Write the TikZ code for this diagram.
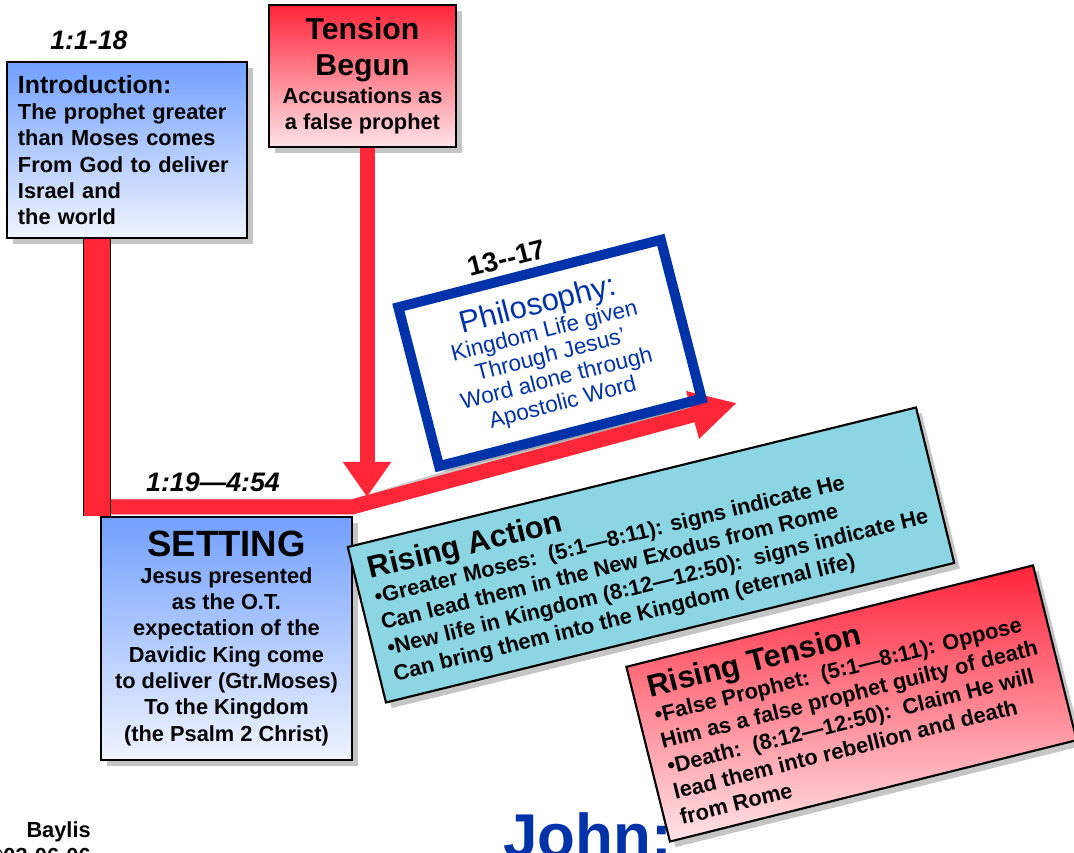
\documentclass[tikz,border=0pt]{standalone}
\usepackage{fontspec}
\setmainfont{Liberation Sans}
\usetikzlibrary{arrows.meta,shadows,positioning}
\definecolor{barred}{RGB}{255,38,56}
\definecolor{skyblue}{RGB}{114,160,255}
\definecolor{paleblue}{RGB}{240,244,255}
\definecolor{tensred}{RGB}{255,36,58}
\definecolor{palepink}{RGB}{255,228,232}
\definecolor{actioncyan}{RGB}{140,214,228}
\definecolor{philblue}{RGB}{0,50,170}
\definecolor{shadowgray}{RGB}{110,110,110}

\newcommand{\bodyfont}{\fontsize{15.5}{18.7}\selectfont\bfseries}
\newcommand{\titlefont}{\fontsize{17.7}{20.5}\selectfont\bfseries}
\newcommand{\bigfont}{\fontsize{21.5}{25.5}\selectfont\bfseries}
\newcommand{\settingfont}{\fontsize{26}{29}\selectfont\bfseries}
\newcommand{\headfont}{\fontsize{22}{25}\selectfont\bfseries}
\newcommand{\reffont}{\fontsize{19}{22}\selectfont\bfseries\itshape}
\newcommand{\numfont}{\fontsize{19.5}{22}\selectfont\bfseries}
\newcommand{\philheadfont}{\fontsize{22}{24}\selectfont}
\newcommand{\philfont}{\fontsize{16}{17.5}\selectfont}
\newcommand{\johnfont}{\fontsize{44}{50}\selectfont\bfseries}

\begin{document}
\begin{tikzpicture}[x=0.025cm, y=0.025cm,
  panel/.style={rectangle, draw=black, line width=1.5pt,
    drop shadow={shadow xshift=4pt, shadow yshift=-4pt, opacity=0.45}},
  bluegrad/.style={top color=skyblue, bottom color=paleblue},
  redgrad/.style={top color=tensred, bottom color=palepink},
  bar/.style={barred, line width=0.375cm},
  barshadow/.style={shadowgray, line width=0.375cm, opacity=0.35,
    xshift=4pt, yshift=-4pt},
  philframe/.style={rectangle, rotate=14.4, minimum width=6.775cm,
    minimum height=4.1cm}
]

%% ── page ──────────────────────────────────────────────────────────────────
\useasboundingbox (0,0) rectangle (1074,853);
\clip (0,0) rectangle (1074,853);
\fill[white] (0,0) rectangle (1074,853);

%% ── boxes that the bars start from ────────────────────────────────────────
\node[panel, bluegrad, minimum width=6cm, minimum height=4.4cm,
      text width=5.45cm, inner xsep=0.25cm,
      align=left, font=\bodyfont] (intro) at (127,703)
  {{\titlefont Introduction:}\\The prophet greater\\than Moses comes\\
   From God to deliver\\Israel and\\the world};

\node[panel, redgrad, minimum width=4.675cm, minimum height=3.55cm,
      align=center, font=\bodyfont] (tension) at (362.5,777)
  {{\bigfont Tension}\\[7pt]{\bigfont Begun}\\[1pt]Accusations as\\a false prophet};

\node[panel, bluegrad, minimum width=6.275cm, minimum height=6.075cm,
      align=center, font=\bodyfont] (setting) at (226.5,214.5)
  {{\settingfont SETTING}\\Jesus presented\\as the O.T.\\expectation of the\\
   Davidic King come\\to deliver (Gtr.Moses)\\To the Kingdom\\(the Psalm 2 Christ)};

% Philosophy box: white ground first, frame again on top of the arrow
\node[philframe, fill=white,
      drop shadow={shadow xshift=4pt, shadow yshift=-4pt, opacity=0.45}]
  (philbase) at (550,500) {};

%% ── red bars ──────────────────────────────────────────────────────────────
\coordinate (leftdrop) at ([xshift=-0.75cm]intro.south);
\coordinate (junc) at (352,346);
\coordinate (philtip) at (737,450);
\coordinate (tenstip) at (367,356);

% shadows
\draw[barshadow] (leftdrop |- junc) -- (junc) -- ([xshift=-1cm]philtip);
\draw[barshadow] (tenstip |- tension.south) -- ([yshift=0.9cm]tenstip);
\draw[barshadow, line width=0.7cm] (leftdrop) -- (leftdrop |- setting.north);

% bar from the setting up past the philosophy
\draw[bar, -{Triangle[length=1.15cm, width=1.15cm]}]
  (leftdrop |- junc) -- (junc) -- (philtip);
% bar down from tension begun
\draw[bar, -{Triangle[length=0.875cm, width=1.15cm]}]
  (tenstip |- tension.south) -- (tenstip);
% bar down from the introduction
\draw[draw=black, double=barred, double distance=0.65cm, line width=1pt]
  (leftdrop) -- (leftdrop |- setting.north);

\node[philframe, draw=philblue, line width=0.25cm, align=center,
      text=philblue, font=\philfont] (philo) at (550,500)
  {{\philheadfont Philosophy:}\\Kingdom Life given\\Through Jesus’\\
   Word alone through\\Apostolic Word};

%% ── chapter labels ────────────────────────────────────────────────────────
\node[font=\reffont] (introref) at (89,813) {1:1-18};
\node[font=\reffont] (settingref) at (213,371) {1:19—4:54};
\node[font=\numfont, rotate=14.4] (philref) at (507,595) {13-{}-17};

%% ── title and credit at the bottom ────────────────────────────────────────
\node[anchor=base west, inner sep=0pt, font=\johnfont, text=philblue]
  (john) at (503,-5) {John:};
\node[anchor=base east, inner sep=0pt, font=\bodyfont] (credit) at (91,15) {Baylis};
\node[anchor=base east, inner sep=0pt, font=\bodyfont] (creditdate) at (91,-11)
  {©03-06-06};

%% ── rising action / rising tension ────────────────────────────────────────
\node[panel, fill=actioncyan, rotate=13.8, minimum width=14.625cm,
      minimum height=4cm, align=left, font=\bodyfont] (action) at (651,298)
  {{\headfont Rising Action}\\
   •Greater Moses:\ \ (5:1—8:11): signs indicate He\\
   Can lead them in the New Exodus from Rome\\
   •New life in Kingdom (8:12—12:50):\ \ signs indicate He\\
   Can bring them into the Kingdom (eternal life)};

\node[panel, redgrad, rotate=14, minimum width=10.475cm,
      minimum height=4.5cm, align=left, font=\bodyfont] (risetension) at (851.5,149.5)
  {{\headfont Rising Tension}\\
   •False Prophet:\ \ (5:1—8:11): Oppose\\
   Him as a false prophet guilty of death\\
   •Death:\ \ (8:12—12:50):\ \ Claim He will\\
   lead them into rebellion and death\\
   from Rome};

\end{tikzpicture}
\end{document}
